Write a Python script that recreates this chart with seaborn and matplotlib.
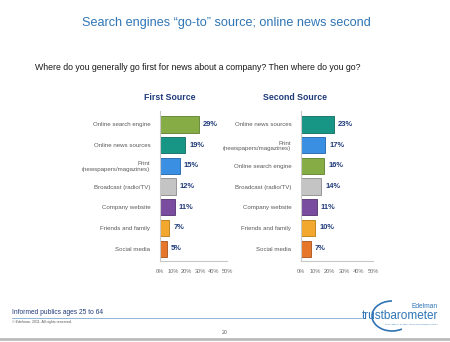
import matplotlib
matplotlib.use("Agg")
import matplotlib.pyplot as plt
import seaborn as sns
import pandas as pd
from matplotlib.patches import Arc

first_labels = ["Online search engine", "Online news sources", "Print\n(newspapers/magazines)",
                "Broadcast (radio/TV)", "Company website", "Friends and family", "Social media"]
first_values = [29, 19, 15, 12, 11, 7, 5]
second_labels = ["Online news sources", "Print\n(newspapers/magazines)", "Online search engine",
                 "Broadcast (radio/TV)", "Company website", "Friends and family", "Social media"]
second_values = [23, 17, 16, 14, 11, 10, 7]
tick_values = [0, 10, 20, 30, 40, 50]
tick_labels = ["0%", "10%", "20%", "30%", "40%", "50%"]

palette = {
    "Online search engine": "#86AC46",
    "Online news sources": "#179585",
    "Print\n(newspapers/magazines)": "#3A8FE3",
    "Broadcast (radio/TV)": "#C4C4C4",
    "Company website": "#7A4C9F",
    "Friends and family": "#F2A72E",
    "Social media": "#E5762A",
}
edge = {
    "Online search engine": "#5E7E2C",
    "Online news sources": "#0E6A5E",
    "Print\n(newspapers/magazines)": "#1F63A8",
    "Broadcast (radio/TV)": "#8A8A8A",
    "Company website": "#52306E",
    "Friends and family": "#B87A10",
    "Social media": "#A8501A",
}

sns.set_theme(style="white")
plt.rcParams['font.family'] = ['Liberation Sans', 'DejaVu Sans']

fig = plt.figure(figsize=(4.5, 3.42), dpi=100)
fig.patch.set_facecolor("white")

navy = "#1F3A7A"
gray_txt = "#595959"

def panel(rect, labels, values, title, title_x):
    ax = fig.add_axes(rect)
    df = pd.DataFrame({"cat": labels, "val": values})
    sns.barplot(data=df, x="val", y="cat", hue="cat", palette=palette, order=labels,
                hue_order=labels, orient="h", width=0.78, legend=False, ax=ax, dodge=False,
                saturation=1)
    for p, lab in zip(ax.patches, labels):
        p.set_edgecolor(edge[lab])
        p.set_linewidth(0.6)
    for i, v in enumerate(values):
        ax.text(v + 2.8, i, f"{v}%", va="center", ha="left", fontsize=5.4,
                fontweight="bold", color=navy)
    ax.set_xlim(0, 50)
    ax.set_xticks(tick_values)
    ax.set_xticklabels(tick_labels, fontsize=4.1, color="#6E6E6E")
    ax.tick_params(axis="x", length=0, pad=6)
    ax.set_yticks(range(len(labels)))
    ax.set_yticklabels(labels, fontsize=4.4, color=gray_txt, linespacing=1.1)
    ax.tick_params(axis="y", length=0, pad=7)
    ax.set_xlabel("")
    ax.set_ylabel("")
    for s in ["top", "right"]:
        ax.spines[s].set_visible(False)
    for s in ["left", "bottom"]:
        ax.spines[s].set_color("#C8C8C8")
        ax.spines[s].set_linewidth(0.8)
    ax.set_ylim(6.6, -0.65)
    ax.set_facecolor("none")
    fig.text(title_x / 450, 1 - 97 / 342, title, ha="center", va="center", fontsize=6.3,
             fontweight="bold", color=navy)
    return ax

panel([160/450, 1 - 261/342, 67/450, 150/342], first_labels, first_values, "First Source", 170)
panel([301/450, 1 - 261/342, 72/450, 150/342], second_labels, second_values, "Second Source", 295)

fig.text(226/450, 1 - 23/342, "Search engines \u201cgo-to\u201d source; online news second",
         ha="center", va="center", fontsize=9.1, color="#2F75B5")
fig.text(35/450, 1 - 68/342,
         "Where do you generally go first for news about a company? Then where do you go?",
         ha="left", va="center", fontsize=6.3, color="#1A1A1A")

fig.text(12/450, 1 - 313/342, "Informed publics ages 25 to 64", ha="left", va="center",
         fontsize=4.8, color="#1F3A7A")
fig.text(12/450, 1 - 322/342, "\u00a9 Edelman, 2011. All rights reserved.", ha="left",
         va="center", fontsize=2.6, color="#555555")
fig.add_artist(plt.Line2D([12/450, 362/450], [1 - 318/342, 1 - 318/342],
                          color="#7FA7D0", lw=0.6))
fig.text(225/450, 1 - 332/342, "20", ha="center", va="center", fontsize=3.8, color="#555555")
fig.add_artist(plt.Line2D([0, 1], [1 - 339/342, 1 - 339/342], color="#BBBBBB", lw=2))

fig.text(438/450, 1 - 306/342, "Edelman", ha="right", va="center", fontsize=4.8, color="#2F75B5")
fig.text(438/450, 1 - 316/342, "trustbarometer", ha="right", va="center", fontsize=8.5,
         color="#2F75B5")
fig.text(438/450, 1 - 324/342, "2011 ANNUAL GLOBAL OPINION LEADERS STUDY", ha="right",
         va="center", fontsize=1.6, color="#2F75B5")
fig.add_artist(Arc((392/450, 1 - 316/342), 40/450, 30/342, theta1=90, theta2=300,
                   color="#2F75B5", lw=1.2, transform=fig.transFigure))

fig.savefig("out.png", dpi=100, facecolor="white")
